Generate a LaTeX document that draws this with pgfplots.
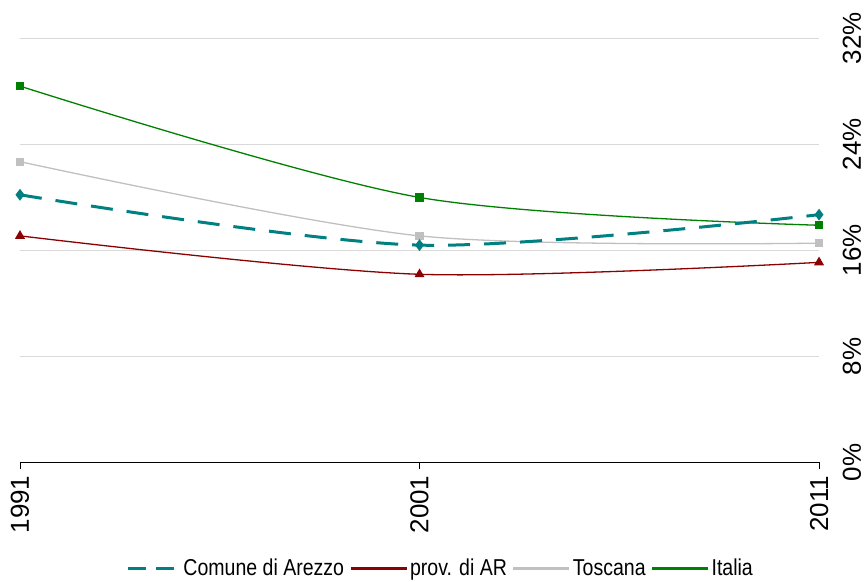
\documentclass[border=0pt]{standalone}
\usepackage{fontspec}
\setmainfont{Liberation Sans}
\usepackage{pgfplots}
\pgfplotsset{compat=1.18}
\definecolor{cteal}{HTML}{008080}
\definecolor{cred}{HTML}{8B0000}
\definecolor{cgrey}{HTML}{C0C0C0}
\definecolor{cgreen}{HTML}{008000}
\newcommand{\nar}[1]{\scalebox{0.85}[1]{#1}}
\begin{document}
\begin{tikzpicture}
\begin{axis}[
  name=ax,
  scale only axis,
  width=800pt, height=463pt,
  xmin=1991, xmax=2011,
  ymin=0, ymax=34.9,
  axis x line=bottom,
  axis y line=right,
  axis line style={-},
  y axis line style={draw=none},
  x axis line style={black, line width=0.8pt},
  xtick={1991,2001,2011},
  xticklabels={1991,2001,2011},
  xtick align=outside,
  xtick style={black, line width=0.8pt},
  major tick length=7pt,
  ytick={0,8,16,24,32},
  yticklabels={0\%,8\%,16\%,24\%,32\%},
  ytick style={draw=none},
  ymajorgrids,
  grid style={draw=black!15, line width=1.5pt},
  xticklabel style={rotate=90, anchor=east, font=\fontsize{26}{30}\selectfont, inner sep=0pt, xshift=-6pt},
  yticklabel style={rotate=90, anchor=north, font=\fontsize{26}{30}\selectfont, inner sep=0pt, yshift=-20pt},
  legend columns=4,
  legend style={at={(0.524,-0.229)}, anchor=center, draw=none, fill=none,
    font=\fontsize{23}{26}\selectfont,
    /tikz/every even column/.append style={column sep=3pt}},
  legend image code/.code={\draw[#1] (0pt,0pt) -- (56pt,0pt);},
  clip=false,
]
\addlegendimage{cteal, line width=3pt, dash pattern=on 18pt off 10pt, dash phase=-4pt}
\addlegendentry{\nar{Comune di Arezzo}}
\addlegendimage{cred, line width=3pt}
\addlegendentry{\nar{prov. di AR}}
\addlegendimage{cgrey, line width=3pt}
\addlegendentry{\nar{Toscana}}
\addlegendimage{cgreen, line width=3pt}
\addlegendentry{\nar{Italia}}

\addplot[forget plot, cgrey, line width=1.3pt, smooth, mark=square*, mark size=3.5pt, mark options={solid}] coordinates {(1991,22.7) (2001,17.1) (2011,16.55)};
\addplot[forget plot, cred, line width=1.3pt, smooth, mark=triangle*, mark size=4.5pt, mark options={solid}] coordinates {(1991,17.1) (2001,14.2) (2011,15.1)};
\addplot[forget plot, cgreen, line width=1.3pt, smooth, mark=square*, mark size=3.5pt, mark options={solid}] coordinates {(1991,28.4) (2001,20.0) (2011,17.9)};
\addplot[forget plot, cteal, line width=3pt, smooth, dash pattern=on 22pt off 14pt, mark=diamond*, mark size=3.5pt, mark options={solid}] coordinates {(1991,20.2) (2001,16.4) (2011,18.7)};
\end{axis}
\pgfresetboundingbox
\path[use as bounding box] ([shift={(-20pt,-119pt)}]ax.south west) rectangle ([shift={(48pt,0pt)}]ax.north east);
\end{tikzpicture}
\end{document}
